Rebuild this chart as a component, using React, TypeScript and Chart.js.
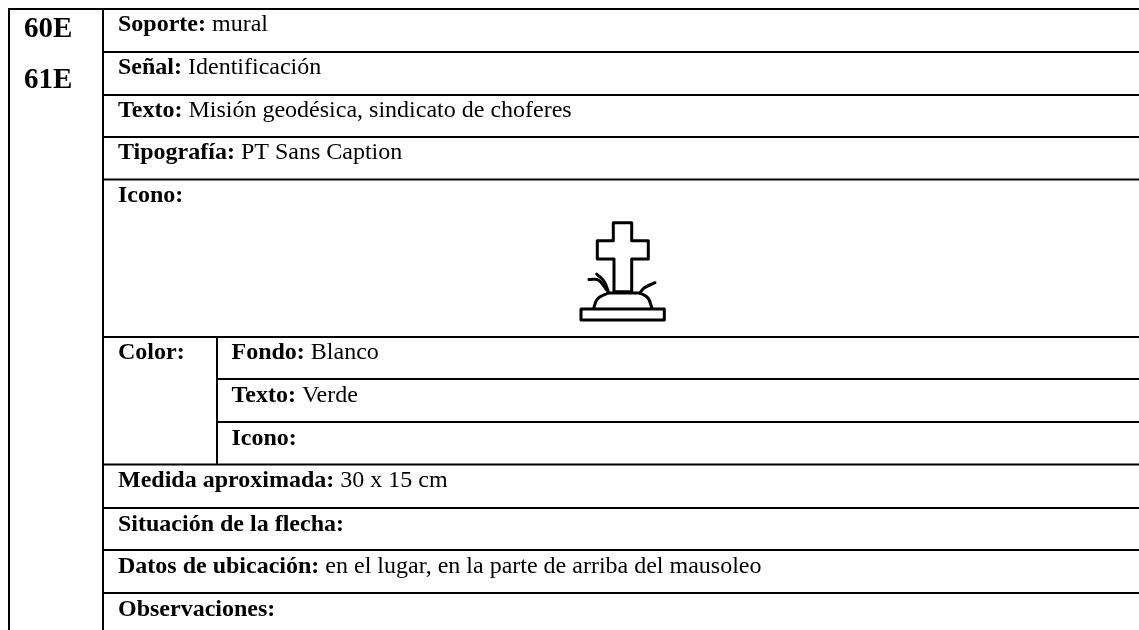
import React, { useEffect, useRef } from "react";
import { Chart, registerables } from "chart.js";

Chart.register(...registerables);

const W = 1139;
const H = 630;

// Table rules
const ruleTop = [8, 9, 1139, 9];
const ruleRowsWide = [52, 95, 137, 179.5, 337, 464.5, 508, 550, 593];
const ruleRowsInner = [379, 422];
const ruleColOuter = 9;
const ruleColMain = 103;
const ruleColInner = 217;

// Cell texts
const headCells: [string, number, number][] = [
  ["60E", 24, 37],
  ["61E", 24, 88],
];
const bodyCells: [string, string, number, number][] = [
  ["Soporte:", " mural", 118, 31],
  ["Señal:", " Identificación", 118, 74],
  ["Texto:", " Misión geodésica, sindicato de choferes", 118, 116.5],
  ["Tipografía:", " PT Sans Caption", 118, 159],
  ["Icono:", "", 118, 202],
  ["Color:", "", 118, 359],
  ["Fondo:", " Blanco", 231.5, 359],
  ["Texto:", " Verde", 231.5, 401.5],
  ["Icono:", "", 231.5, 445],
  ["Medida aproximada:", " 30 x 15 cm", 118, 487],
  ["Situación de la flecha:", "", 118, 530.5],
  ["Datos de ubicación:", " en el lugar, en la parte de arriba del mausoleo", 118, 573],
  ["Observaciones:", "", 118, 615.5],
];

// Icon outlines
const iconCross = [
  [613.3, 222.7], [631.7, 222.7], [631.7, 240.7], [648.3, 240.7], [648.3, 259], [631.7, 259],
  [631.7, 291.7], [614, 291.7], [614, 259], [597.3, 259], [597.3, 240.7], [613.3, 240.7], [613.3, 222.7],
];
const iconBase = [[581, 309], [664.3, 309], [664.3, 320], [581, 320], [581, 309]];
const iconMoundLeft = [[593.5, 308.5], [597.5, 299], [608, 293]];
const iconMoundTop = [[608, 293], [640, 293]];
const iconMoundRight = [[640, 293], [648, 298], [652, 308.5]];
const iconGrassA = [[608.3, 291.7], [604.3, 281.7], [596.7, 274]];
const iconGrassB = [[589, 279.5], [598.3, 280], [606.7, 290]];
const iconGrassC = [[640, 293], [644, 288], [655, 282.7]];

const toPts = (a: number[][]) => a.map(([x, y]) => ({ x, y }));

const rule = (pts: number[][]) => ({
  data: toPts(pts),
  showLine: true,
  borderColor: "#000",
  borderWidth: 2,
  pointRadius: 0,
  tension: 0,
  borderCapStyle: "butt" as const,
});
const icon = (pts: number[][], tension = 0) => ({
  data: toPts(pts),
  showLine: true,
  borderColor: "#000",
  borderWidth: 3,
  pointRadius: 0,
  tension,
  borderCapStyle: "round" as const,
  borderJoinStyle: "round" as const,
});

const cellText = {
  id: "cellText",
  afterDraw(chart: any) {
    const { ctx, scales } = chart;
    const X = (v: number) => scales.x.getPixelForValue(v);
    const Y = (v: number) => scales.y.getPixelForValue(v);
    ctx.save();
    ctx.fillStyle = "#000";
    ctx.textBaseline = "alphabetic";
    ctx.textAlign = "left";
    ctx.font = "bold 29px 'Liberation Serif'";
    headCells.forEach(([t, x, y]) => ctx.fillText(t, X(x), Y(y)));
    bodyCells.forEach(([b, r, x, y]) => {
      ctx.font = "bold 24px 'Liberation Serif'";
      ctx.fillText(b, X(x), Y(y));
      const w = ctx.measureText(b).width;
      ctx.font = "24px 'Liberation Serif'";
      if (r) ctx.fillText(r, X(x) + w, Y(y));
    });
    ctx.restore();
  },
};

export default function App() {
  const ref = useRef<HTMLCanvasElement>(null);
  useEffect(() => {
    document.body.style.margin = "0";
    document.body.style.background = "#fff";
    const datasets: any[] = [
      rule([[ruleTop[0], ruleTop[1]], [ruleTop[2], ruleTop[3]]]),
      ...ruleRowsWide.map((y) => rule([[ruleColMain, y], [W, y]])),
      ...ruleRowsInner.map((y) => rule([[ruleColInner, y], [W, y]])),
      rule([[ruleColOuter, 8], [ruleColOuter, H]]),
      rule([[ruleColMain, 8], [ruleColMain, H]]),
      rule([[ruleColInner, ruleRowsWide[4]], [ruleColInner, ruleRowsWide[5]]]),
      icon(iconCross),
      icon(iconBase),
      icon(iconMoundLeft, 0.4),
      icon(iconMoundTop),
      icon(iconMoundRight, 0.4),
      icon(iconGrassA, 0.4),
      icon(iconGrassB, 0.4),
      icon(iconGrassC, 0.4),
    ];
    const chart = new Chart(ref.current!, {
      type: "scatter",
      data: { datasets },
      options: {
        animation: false,
        responsive: false,
        maintainAspectRatio: false,
        layout: { padding: 0 },
        plugins: { legend: { display: false }, tooltip: { enabled: false } },
        scales: {
          x: { type: "linear", min: 0, max: W, display: false },
          y: { type: "linear", min: 0, max: H, reverse: true, display: false },
        },
      },
      plugins: [cellText],
    });
    return () => chart.destroy();
  }, []);
  return (
    <canvas
      ref={ref}
      width={W}
      height={H}
      style={{ display: "block", width: W, height: H, background: "#fff" }}
    />
  );
}
